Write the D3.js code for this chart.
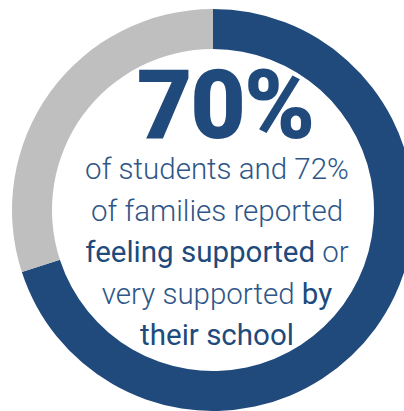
<!DOCTYPE html>
<html>
<head>
<meta charset="utf-8">
<script src="https://cdn.jsdelivr.net/npm/d3@7"></script>
<style>
  html, body { margin: 0; padding: 0; background: #fff; overflow: hidden; }
  svg { display: block; }
</style>
</head>
<body>
<svg id="chart" width="404" height="411"></svg>
<script>
// Share of students feeling supported vs. the rest
const segments = ["Supported", "Not supported"];
const shares = [70, 30];
const segmentColors = ["#214a7c", "#bfbfbf"];

// Headline and caption (each line is a list of [text, bold] runs)
const headline = "70%";
const captionLines = [
  [["of students and 72%", false]],
  [["of families reported", false]],
  [["feeling supported", true], [" or", false]],
  [["very supported ", false], ["by", true]],
  [["their school", true]]
];

const svg = d3.select("#chart");
const cx = 213, cy = 210;
const outerR = 201, innerR = 161;

const pie = d3.pie().sort(null).value(d => d)(shares);
const arc = d3.arc().innerRadius(innerR).outerRadius(outerR);

const g = svg.append("g").attr("transform", `translate(${cx},${cy})`);
g.selectAll("path")
  .data(pie)
  .join("path")
  .attr("d", arc)
  .attr("fill", (d, i) => segmentColors[i]);

// Big figure
svg.append("text")
  .attr("x", 225)
  .attr("y", 138)
  .attr("text-anchor", "middle")
  .attr("font-family", "Roboto, 'Open Sans', sans-serif")
  .attr("font-weight", 900)
  .attr("font-size", 96)
  .attr("letter-spacing", -2)
  .attr("fill", "#214a7c")
  .text(headline);

// Caption lines
const baseY = 179, lineGap = 41.5;
captionLines.forEach((runs, i) => {
  const t = svg.append("text")
    .attr("x", 217)
    .attr("y", baseY + i * lineGap)
    .attr("text-anchor", "middle")
    .attr("font-family", "Roboto, 'Open Sans', sans-serif")
    .attr("font-size", 29.5)
    .attr("fill", "#214a7c");
  runs.forEach(([txt, bold]) => {
    t.append("tspan")
      .attr("font-weight", bold ? 400 : 300)
      .attr("fill", bold ? "#214a7c" : "#2e5688")
      .text(txt);
  });
});
</script>
</body>
</html>
